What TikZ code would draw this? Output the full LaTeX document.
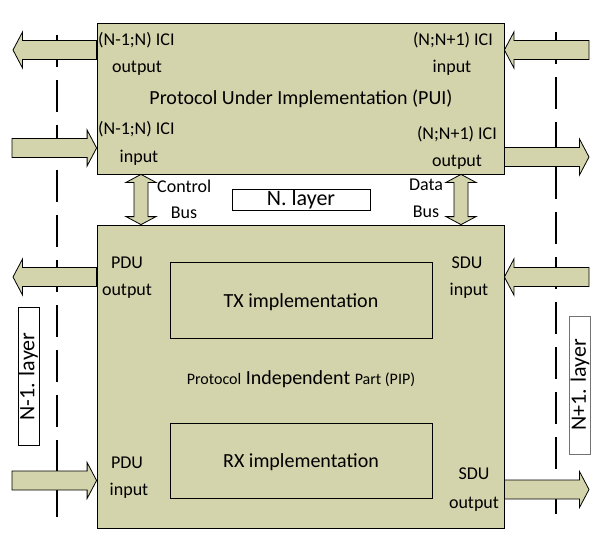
\documentclass[tikz,border=0pt]{standalone}
\usepackage{fontspec}
\setmainfont{Carlito}
\usetikzlibrary{calc}

\definecolor{layerfill}{RGB}{211,211,172}

\tikzset{
  block/.style={draw, fill=layerfill, line width=0.8pt, inner sep=0pt},
  blockarr/.style={draw, fill=layerfill, line width=0.8pt},
  lbl/.style={inner sep=0pt, anchor=base, font=\fontsize{18}{20}\selectfont},
  titletext/.style={inner sep=0pt, anchor=base, font=\fontsize{20}{22}\selectfont},
  layertag/.style={draw, fill=white, line width=0.8pt, minimum width=138pt, minimum height=21pt, inner sep=0pt, font=\fontsize{22}{24}\selectfont},
  border/.style={line width=2.5pt, dash pattern=on 32pt off 13pt},
}

% horizontal block arrow: tail, tip
\newcommand{\hblock}[2]{%
  \draw[blockarr] let \p1=(#1), \p2=(#2), \n1={sign(\x2-\x1)*9.5pt} in
    (\x1,\y1+9.5pt) -- ({\x2-\n1},\y1+9.5pt) -- ({\x2-\n1},\y1+18pt) -- (\x2,\y1)
    -- ({\x2-\n1},\y1-18pt) -- ({\x2-\n1},\y1-9.5pt) -- (\x1,\y1-9.5pt) -- cycle;}
% vertical double block arrow: top, bottom
\newcommand{\vbus}[2]{%
  \draw[blockarr] let \p1=(#1), \p2=(#2) in
    (\x1,\y1) -- (\x1+15pt,\y1-8pt) -- (\x1+7pt,\y1-8pt) -- (\x1+7pt,\y2+8pt)
    -- (\x1+15pt,\y2+8pt) -- (\x1,\y2) -- (\x1-15pt,\y2+8pt) -- (\x1-7pt,\y2+8pt)
    -- (\x1-7pt,\y1-8pt) -- (\x1-15pt,\y1-8pt) -- cycle;}

\begin{document}
\begin{tikzpicture}[x=1pt, y=-1pt]
\useasboundingbox (0,0) rectangle (605,559);

% layer borders
\draw[border] (57,35) -- (57,525);
\draw[border] (556,32) -- (556,522);

% main blocks
\node[block, minimum width=407pt, minimum height=151pt] (pui) at (300.5,98.5) {};
\node[block, minimum width=407pt, minimum height=303pt] (pip) at (300.5,376.5) {};
\node[block, minimum width=262pt, minimum height=76pt] (tx) at (301,300) {};
\node[block, minimum width=262pt, minimum height=75pt] (rx) at (301,460.5) {};

% outer ends of the arrows
\coordinate (icioL) at (13,50);
\coordinate (iciiL) at (12,148);
\coordinate (iciiR) at (589,50);
\coordinate (icioR) at (589,157);
\coordinate (pduo) at (13,277);
\coordinate (pdui) at (12,480.5);
\coordinate (sdui) at (589,277);
\coordinate (sduo) at (589,489.5);
\coordinate (cbus) at (141,0);
\coordinate (dbus) at (461,0);

\hblock{pui.west |- icioL}{icioL}
\hblock{iciiL}{pui.west |- iciiL}
\hblock{iciiR}{pui.east |- iciiR}
\hblock{pui.east |- icioR}{icioR}
\hblock{pip.west |- pduo}{pduo}
\hblock{pdui}{pip.west |- pdui}
\hblock{sdui}{pip.east |- sdui}
\hblock{pip.east |- sduo}{sduo}
\vbus{pui.south -| cbus}{pip.north -| cbus}
\vbus{pui.south -| dbus}{pip.north -| dbus}

% PUI labels
\node[lbl, anchor=base west] (icioLa) at (98,46) {(N-1;N) ICI};
\node[lbl] (icioLb) at (137,73) {output};
\node[titletext] (puititle) at (301,104.5) {Protocol Under Implementation (PUI)};
\node[lbl, anchor=base west] (iciiLa) at (98,135) {(N-1;N) ICI};
\node[lbl] (iciiLb) at (139,162) {input};
\node[lbl, anchor=base east] (iciiRa) at (493,46) {(N;N+1) ICI};
\node[lbl] (iciiRb) at (452,73) {input};
\node[lbl, anchor=base east] (icioRa) at (497,140) {(N;N+1) ICI};
\node[lbl] (icioRb) at (457,166) {output};

% bus labels
\node[lbl, anchor=base west] (cbusa) at (157,192) {Control};
\node[lbl] (cbusb) at (184,218) {Bus};
\node[lbl] (dbusa) at (426,190) {Data};
\node[lbl] (dbusb) at (426,217) {Bus};

% PIP labels
\node[lbl] (pduoa) at (127,268.5) {PDU};
\node[lbl] (pduob) at (127,295) {output};
\node[lbl] (sduia) at (467,268.5) {SDU};
\node[lbl] (sduib) at (469,295) {input};
\node[titletext] (txtitle) at (301,307) {TX implementation};
\node[titletext] (piptitle) at (301,384)
  {{\fontsize{16}{18}\selectfont Protocol} Independent {\fontsize{16}{18}\selectfont Part (PIP)}};
\node[titletext] (rxtitle) at (301,467) {RX implementation};
\node[lbl] (pduia) at (127,468.5) {PDU};
\node[lbl] (pduib) at (129,495) {input};
\node[lbl] (sduoa) at (474,479.5) {SDU};
\node[lbl] (sduob) at (474,508) {output};

% layer tags
\node[layertag] (nlayer) at (301,199.5) {N. layer};
\node[layertag, rotate=90] (nmlayer) at (28.5,376.5) {N-1. layer};
\node[layertag, rotate=90, draw=black!55] (nplayer) at (580,385) {N+1. layer};
\end{tikzpicture}
\end{document}
